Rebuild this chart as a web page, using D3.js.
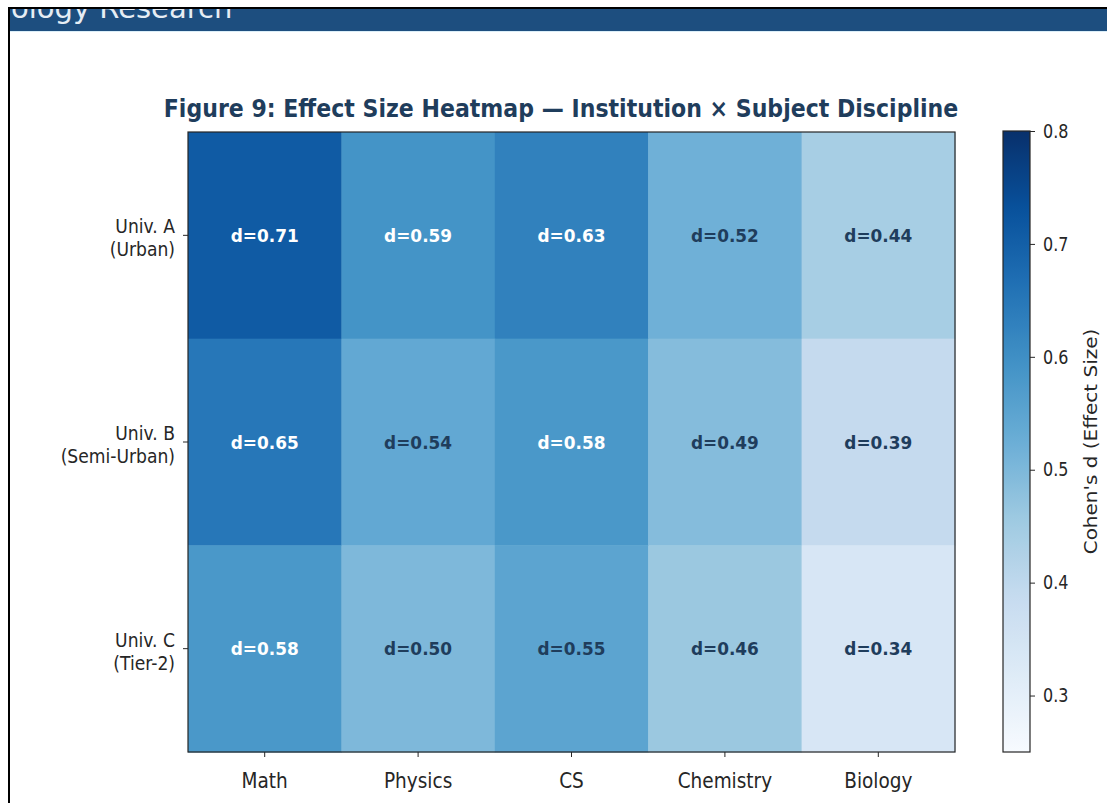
<!DOCTYPE html>
<html>
<head>
<meta charset="utf-8">
<script src="https://cdn.jsdelivr.net/npm/d3@7"></script>
<style>
  html, body { margin: 0; padding: 0; background: #ffffff; }
  svg { display: block; font-family: "DejaVu Sans", sans-serif; }
</style>
</head>
<body>
<svg id="chart" width="1107" height="803"></svg>
<script>
// Effect sizes (Cohen's d) per institution and subject discipline
const institutions = ["Univ. A\n(Urban)", "Univ. B\n(Semi-Urban)", "Univ. C\n(Tier-2)"];
const subjects = ["Math", "Physics", "CS", "Chemistry", "Biology"];
const effectUnivA = [0.71, 0.59, 0.63, 0.52, 0.44];
const effectUnivB = [0.65, 0.54, 0.58, 0.49, 0.39];
const effectUnivC = [0.58, 0.50, 0.55, 0.46, 0.34];
const colorRange = [0.25, 0.8];
const colorbarTicks = [0.3, 0.4, 0.5, 0.6, 0.7, 0.8];
const lightTextAbove = 0.56;

const titleText = "Figure 9: Effect Size Heatmap \u2014 Institution \u00d7 Subject Discipline";
const colorbarLabel = "Cohen's d (Effect Size)";
const bannerText = "Biology Research";

const effects = [effectUnivA, effectUnivB, effectUnivC];
const cells = [];
institutions.forEach((inst, i) => subjects.forEach((subj, j) => cells.push({ inst, subj, v: effects[i][j] })));

// Sequential "Blues" ramp (ColorBrewer 9-class), linearly interpolated
const bluesStops = ["#f7fbff", "#deebf7", "#c6dbef", "#9ecae1", "#6baed6", "#4292c6", "#2171b5", "#08519c", "#08306b"];
const rampPos = d3.scaleLinear().domain(colorRange).range([0, 1]).clamp(true);
const ramp = d3.scaleLinear()
  .domain(bluesStops.map((_, k) => k / (bluesStops.length - 1)))
  .range(bluesStops)
  .interpolate(d3.interpolateRgb);
const color = v => ramp(rampPos(v));

const svg = d3.select("#chart");
const defs = svg.append("defs");
const ink = "#262626";
const navy = "#1f3d5c";
const font = "DejaVu Sans";

// Narrow the glyphs horizontally while keeping each label's anchor point fixed
function squeeze(sel, sx) {
  sel.each(function () {
    const t = d3.select(this);
    const x0 = +t.attr("x") || 0;
    t.attr("x", x0 / sx).attr("transform", `scale(${sx},1)`);
    t.selectAll("tspan").each(function () {
      const s = d3.select(this);
      if (s.attr("x") != null) s.attr("x", +s.attr("x") / sx);
    });
  });
}

// Page frame and header band
svg.append("rect").attr("x", 8).attr("y", 7).attr("width", 1099).attr("height", 2).attr("fill", "#000");
svg.append("rect").attr("x", 8).attr("y", 7).attr("width", 2).attr("height", 796).attr("fill", "#000");
defs.append("clipPath").attr("id", "bandClip")
  .append("rect").attr("x", 10).attr("y", 9).attr("width", 1097).attr("height", 22);
svg.append("rect").attr("x", 10).attr("y", 9).attr("width", 1097).attr("height", 22).attr("fill", "#1d4e7f");
svg.append("rect").attr("x", 10).attr("y", 31).attr("width", 1097).attr("height", 1).attr("fill", "#dbeef8");
svg.append("g").attr("clip-path", "url(#bandClip)")
  .append("text")
  .attr("x", -17).attr("y", 18)
  .attr("font-size", 29).attr("fill", "#e6edf4").attr("font-family", font)
  .text(bannerText);

// Heatmap geometry
const plot = { left: 188, right: 955, top: 132, bottom: 752 };
const x = d3.scaleBand().domain(subjects).range([plot.left, plot.right]);
const y = d3.scaleBand().domain(institutions).range([plot.top, plot.bottom]);

svg.append("g").selectAll("rect").data(cells).join("rect")
  .attr("x", d => x(d.subj))
  .attr("y", d => y(d.inst))
  .attr("width", x.bandwidth() + 0.5)
  .attr("height", y.bandwidth() + 0.5)
  .attr("fill", d => color(d.v));

const cellLabels = svg.append("g").selectAll("g").data(cells).join("g")
  .attr("transform", d => `translate(${x(d.subj) + x.bandwidth() / 2},${y(d.inst) + y.bandwidth() / 2 + 6.5})`);
cellLabels.append("text")
  .attr("text-anchor", "middle")
  .attr("font-size", 18).attr("font-weight", "bold").attr("font-family", font)
  .attr("fill", d => d.v >= lightTextAbove ? "#ffffff" : navy)
  .text(d => `d=${d.v.toFixed(2)}`)
  .call(squeeze, 0.94);

svg.append("rect")
  .attr("x", plot.left).attr("y", plot.top)
  .attr("width", plot.right - plot.left).attr("height", plot.bottom - plot.top)
  .attr("fill", "none").attr("stroke", ink).attr("stroke-width", 1.2);

// Axes
const xAxis = svg.append("g").attr("transform", `translate(0,${plot.bottom})`)
  .call(d3.axisBottom(x).tickSize(5));
xAxis.select(".domain").remove();
xAxis.selectAll("line").attr("stroke", ink);
xAxis.selectAll("text")
  .attr("font-size", 21).attr("fill", ink).attr("font-family", font)
  .attr("y", 21).attr("dy", "0.71em")
  .call(squeeze, 0.88);

const yAxis = svg.append("g").attr("transform", `translate(${plot.left},0)`)
  .call(d3.axisLeft(y).tickSize(5));
yAxis.select(".domain").remove();
yAxis.selectAll("line").attr("stroke", ink);
yAxis.selectAll("text")
  .attr("font-size", 19.5).attr("fill", ink).attr("font-family", font)
  .attr("dy", null).attr("x", -13)
  .each(function (d) {
    const t = d3.select(this);
    const lines = d.split("\n");
    t.text(null);
    lines.forEach((ln, k) => {
      t.append("tspan").attr("x", -13).attr("y", k === 0 ? -2 : 21).text(ln);
    });
  })
  .call(squeeze, 0.88);

// Title
svg.append("g").attr("transform", `translate(561,117)`)
  .append("text")
  .attr("text-anchor", "middle")
  .attr("font-size", 24).attr("font-weight", "bold").attr("fill", navy).attr("font-family", font)
  .text(titleText)
  .call(squeeze, 0.92);

// Colorbar
const cb = { left: 1003, width: 27, top: 131, bottom: 752 };
const cy = d3.scaleLinear().domain(colorRange).range([cb.bottom, cb.top]);
const grad = defs.append("linearGradient")
  .attr("id", "cbGrad").attr("x1", 0).attr("y1", 1).attr("x2", 0).attr("y2", 0);
d3.range(0, 1.0001, 0.02).forEach(t => {
  const v = colorRange[0] + t * (colorRange[1] - colorRange[0]);
  grad.append("stop").attr("offset", t).attr("stop-color", color(v));
});
svg.append("rect")
  .attr("x", cb.left).attr("y", cb.top).attr("width", cb.width).attr("height", cb.bottom - cb.top)
  .attr("fill", "url(#cbGrad)").attr("stroke", ink).attr("stroke-width", 1.2);

const cAxis = svg.append("g").attr("transform", `translate(${cb.left + cb.width},0)`)
  .call(d3.axisRight(cy).tickValues(colorbarTicks).tickFormat(d3.format(".1f")).tickSize(5).tickPadding(8));
cAxis.select(".domain").remove();
cAxis.selectAll("line").attr("stroke", ink);
cAxis.selectAll("text")
  .attr("font-size", 19.5).attr("fill", ink).attr("font-family", font)
  .call(squeeze, 0.82);

// Colorbar caption, reading upward; glyph height narrowed like the other labels
svg.append("g")
  .attr("transform", `translate(1097,${(cb.top + cb.bottom) / 2}) rotate(-90)`)
  .append("text")
  .attr("text-anchor", "middle")
  .attr("font-size", 20).attr("fill", ink).attr("font-family", font)
  .attr("transform", "scale(1,0.88)")
  .text(colorbarLabel);
</script>
</body>
</html>
